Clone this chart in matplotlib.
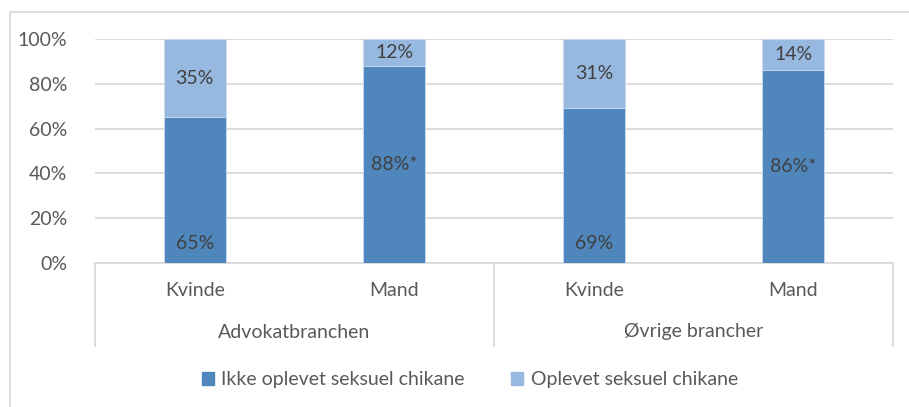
import matplotlib
matplotlib.use('Agg')
import matplotlib.pyplot as plt
from matplotlib.lines import Line2D
from matplotlib.patches import Patch
import numpy as np

# Data
genders = ['Kvinde', 'Mand', 'Kvinde', 'Mand']
groups = ['Advokatbranchen', 'Øvrige brancher']
ikke_oplevet = [65, 88, 69, 86]
oplevet = [35, 12, 31, 14]
ikke_labels = ['65%', '88%*', '69%', '86%*']
oplevet_labels = ['35%', '12%', '31%', '14%']
yticks = [0, 20, 40, 60, 80, 100]

dark = '#4F87BD'
light = '#97B9E0'
text_col = '#595959'
grid_col = '#D9D9D9'
fs = 14

plt.rcParams['font.family'] = ['Lato', 'DejaVu Sans']

fig = plt.figure(figsize=(9.09, 4.07), dpi=100)
ax = fig.add_axes([95 / 909, 144 / 407, 798 / 909, 224 / 407])

x = np.arange(len(genders))
w = 0.31
ax.bar(x, ikke_oplevet, w, color=dark, edgecolor='#C9DAEE', linewidth=0.6, zorder=3)
ax.bar(x, oplevet, w, bottom=ikke_oplevet, color=light, edgecolor='#C9DAEE',
       linewidth=0.6, zorder=3)

# Data labels
for i in range(len(x)):
    if ikke_labels[i].endswith('*'):
        yl = ikke_oplevet[i] / 2
    else:
        yl = 8.5
    ax.text(x[i], yl, ikke_labels[i], ha='center', va='center',
            fontsize=fs, color='#404040', zorder=4)
    ax.text(x[i], ikke_oplevet[i] + oplevet[i] / 2, oplevet_labels[i],
            ha='center', va='center', fontsize=fs, color='#404040', zorder=4)

ax.set_xlim(-0.5, 3.5)
ax.set_ylim(0, 100)
ax.set_yticks(yticks)
ax.set_yticklabels([f'{t}%' for t in yticks])
ax.yaxis.grid(True, color=grid_col, linewidth=1.3, zorder=0)
ax.tick_params(axis='y', length=0, pad=20, labelsize=fs, labelcolor=text_col)
ax.set_xticks(x)
ax.set_xticklabels(genders)
ax.tick_params(axis='x', length=0, pad=14, labelsize=fs, labelcolor=text_col)
for s in ['top', 'right', 'left']:
    ax.spines[s].set_visible(False)
ax.spines['bottom'].set_color(grid_col)
ax.spines['bottom'].set_linewidth(1.3)

# Category group separators and labels
tr = ax.get_xaxis_transform()
for xs in [-0.5, 1.5, 3.5]:
    ax.add_line(Line2D([xs, xs], [0, -83 / 224], transform=tr, color=grid_col,
                       linewidth=1.3, clip_on=False))
for gi, g in enumerate(groups):
    ax.text(gi * 2 + 0.5, -69 / 224, g, transform=tr, ha='center', va='center',
            fontsize=fs, color=text_col)

# Figure border (top and left)
fig.add_artist(Line2D([10 / 909, 1], [1 - 12 / 407, 1 - 12 / 407],
                      transform=fig.transFigure, color=grid_col, linewidth=1.3))
fig.add_artist(Line2D([10 / 909, 10 / 909], [0, 1 - 12 / 407],
                      transform=fig.transFigure, color=grid_col, linewidth=1.3))

handles = [Patch(color=dark), Patch(color=light)]
fig.legend(handles, ['Ikke oplevet seksuel chikane', 'Oplevet seksuel chikane'],
           loc='center', bbox_to_anchor=(470 / 909, 1 - 380 / 407), ncol=2,
           frameon=False, fontsize=fs, labelcolor=text_col, handlelength=0.6,
           handleheight=0.6, handletextpad=0.4, columnspacing=2.4)

fig.savefig('out.png', dpi=100)
